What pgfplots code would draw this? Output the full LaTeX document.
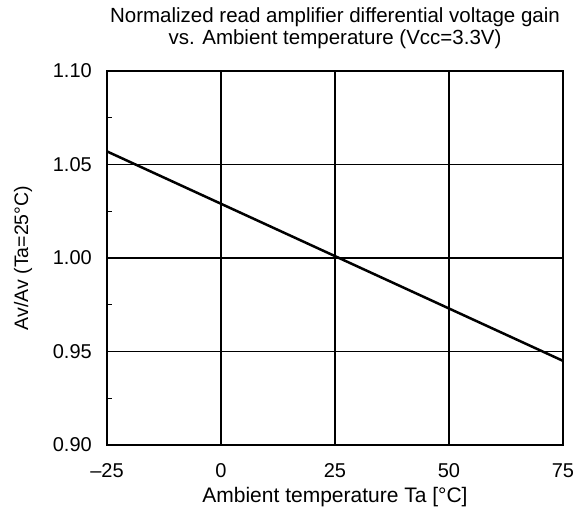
\documentclass[border=0pt]{standalone}
\usepackage{fontspec}
\setmainfont{Liberation Sans}
\usepackage{pgfplots}
\pgfplotsset{compat=1.18}

\begin{document}
\begin{tikzpicture}
\begin{axis}[
    scale only axis,
    width=456pt, height=374pt,
    xmin=-25, xmax=75,
    ymin=0.90, ymax=1.10,
    xtick={-25,0,25,50,75},
    xticklabels={--25,0,25,50,75},
    ytick={0.90,0.95,1.00,1.05,1.10},
    yticklabels={0.90,0.95,1.00,1.05,1.10},
    minor ytick={0.925,0.975,1.025,1.075},
    tick align=inside,
    major tick length=0pt,
    minor tick length=5pt,
    ytick pos=left,
    xtick pos=bottom,
    grid=major,
    major grid style={black, line width=1.1pt},
    axis line style={line width=2pt},
    every minor tick/.style={black, line width=0.9pt},
    tick label style={font=\fontsize{20}{24}\selectfont, inner sep=0pt},
    xticklabel style={anchor=base, yshift=-32pt},
    yticklabel style={anchor=east, xshift=-15pt},
    xlabel style={font=\fontsize{21}{24}\selectfont, inner sep=0pt,
        at={(axis description cs:0.5,0)}, anchor=base, yshift=-57pt},
    ylabel style={font=\fontsize{19.5}{24}\selectfont, inner sep=0pt,
        at={(axis description cs:-0.184,0.5)}, anchor=center, rotate=0},
    title style={font=\fontsize{20.5}{22}\selectfont, align=center, inner sep=0pt,
        at={(axis description cs:0.5,1)}, anchor=south, yshift=16.5pt},
    title={Normalized read amplifier differential voltage gain\\vs. Ambient temperature (Vcc=3.3V)},
    xlabel={Ambient temperature Ta [°C]},
    ylabel={Av/Av (Ta=25°C)},
    /pgf/number format/assume math mode=true,
]
\addplot[black, line width=2.5pt] coordinates {(-25,1.057) (75,0.945)};
\end{axis}
\pgfresetboundingbox
\path[use as bounding box] (current axis.south west) ++(-107pt,-67pt) rectangle ++(587pt,512pt);
\end{tikzpicture}
\end{document}
